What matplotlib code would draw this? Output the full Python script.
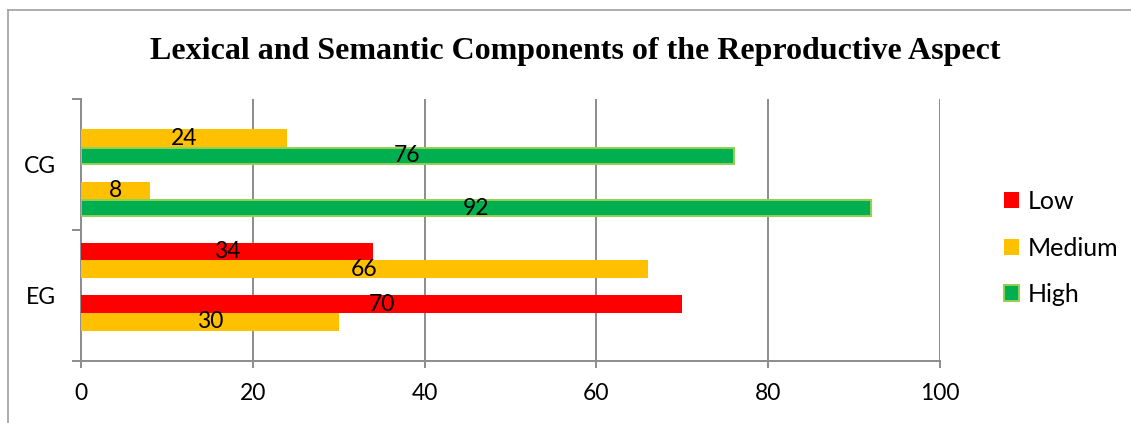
import matplotlib
matplotlib.use("Agg")
import matplotlib.pyplot as plt
from matplotlib.patches import Patch
from matplotlib.lines import Line2D

# Data: two groups, each with two rows of Low / Medium / High percentages
groups = ["EG", "CG"]
series = ["Low", "Medium", "High"]
colors = ["#ff0000", "#ffc000", "#00b050"]
edge_colors = ["#ff0000", "#ffc000", "#92d050"]

eg_row1 = [34, 66, 0]
eg_row2 = [70, 30, 0]
cg_row1 = [0, 24, 76]
cg_row2 = [0, 8, 92]
group_rows = {"EG": [eg_row1, eg_row2], "CG": [cg_row1, cg_row2]}

x_ticks = [0, 20, 40, 60, 80, 100]
title = "Lexical and Semantic Components of the Reproductive Aspect"

W, H, DPI = 1131, 423, 100
fig = plt.figure(figsize=(W / DPI, H / DPI), dpi=DPI)
ax = fig.add_axes([81 / W, 1 - 361 / H, (940 - 81) / W, (361 - 99) / H])

label_font = "Lato"
label_size = 16.5
grid_col = "#8c8c8c"
bar_h = 0.1336

for gi, g in enumerate(groups):
    rows = group_rows[g]
    for ri, row in enumerate(rows):
        for si, val in enumerate(row):
            k = ri * 3 + si
            yc = gi + 0.5 + (2.5 - k) * bar_h
            if val == 0:
                continue
            lw = 1.4 if series[si] == "High" else 0
            ax.barh(yc, val, height=bar_h * (0.93 if lw else 1.0),
                    color=colors[si], edgecolor=edge_colors[si],
                    linewidth=lw, zorder=3)
            ax.text(val / 2, yc, str(val), ha="center", va="center",
                    fontsize=label_size, family=label_font, color="black", zorder=4)

ax.set_xlim(0, 100)
ax.set_ylim(0, 2)
ax.set_xticks(x_ticks)
ax.set_xticklabels([str(t) for t in x_ticks], family=label_font, fontsize=label_size)
ax.set_yticks([0, 1, 2])
ax.set_yticklabels([])
ax.set_yticks([0.5, 1.5], minor=True)
ax.set_yticklabels(groups, minor=True, family=label_font, fontsize=label_size)
ax.tick_params(axis="y", which="major", length=6.5, width=1.4, color=grid_col, direction="out")
ax.tick_params(axis="y", which="minor", length=0, pad=18)
ax.tick_params(axis="x", which="major", length=5, width=1.4, color=grid_col, pad=11)

ax.grid(axis="x", color=grid_col, linewidth=1.4, zorder=0)
ax.set_axisbelow(True)
for side in ["top", "right"]:
    ax.spines[side].set_visible(False)
for side in ["left", "bottom"]:
    ax.spines[side].set_color(grid_col)
    ax.spines[side].set_linewidth(1.4)

fig.text(575 / W, 1 - 59 / H, title, ha="center", va="baseline",
         family="Liberation Serif", fontweight="bold", fontsize=23)

handles = [Patch(facecolor=c, edgecolor=e, linewidth=1.4 if s == "High" else 0)
           for c, e, s in zip(colors, edge_colors, series)]
fig.legend(handles, series, loc="center left", bbox_to_anchor=(1004 / W, 1 - 248 / H),
           frameon=False, prop={"family": label_font, "size": 18},
           borderpad=0, borderaxespad=0,
           handlelength=0.6, handleheight=0.6, handletextpad=0.35, labelspacing=0.94)

# Outer chart border (top and left edges)
fig.add_artist(Line2D([8 / W, 1.0], [1 - 10 / H, 1 - 10 / H], color="#a0a0a0", linewidth=1.2))
fig.add_artist(Line2D([8 / W, 8 / W], [0, 1 - 10 / H], color="#a0a0a0", linewidth=1.2))

fig.savefig("out.png", dpi=DPI)
